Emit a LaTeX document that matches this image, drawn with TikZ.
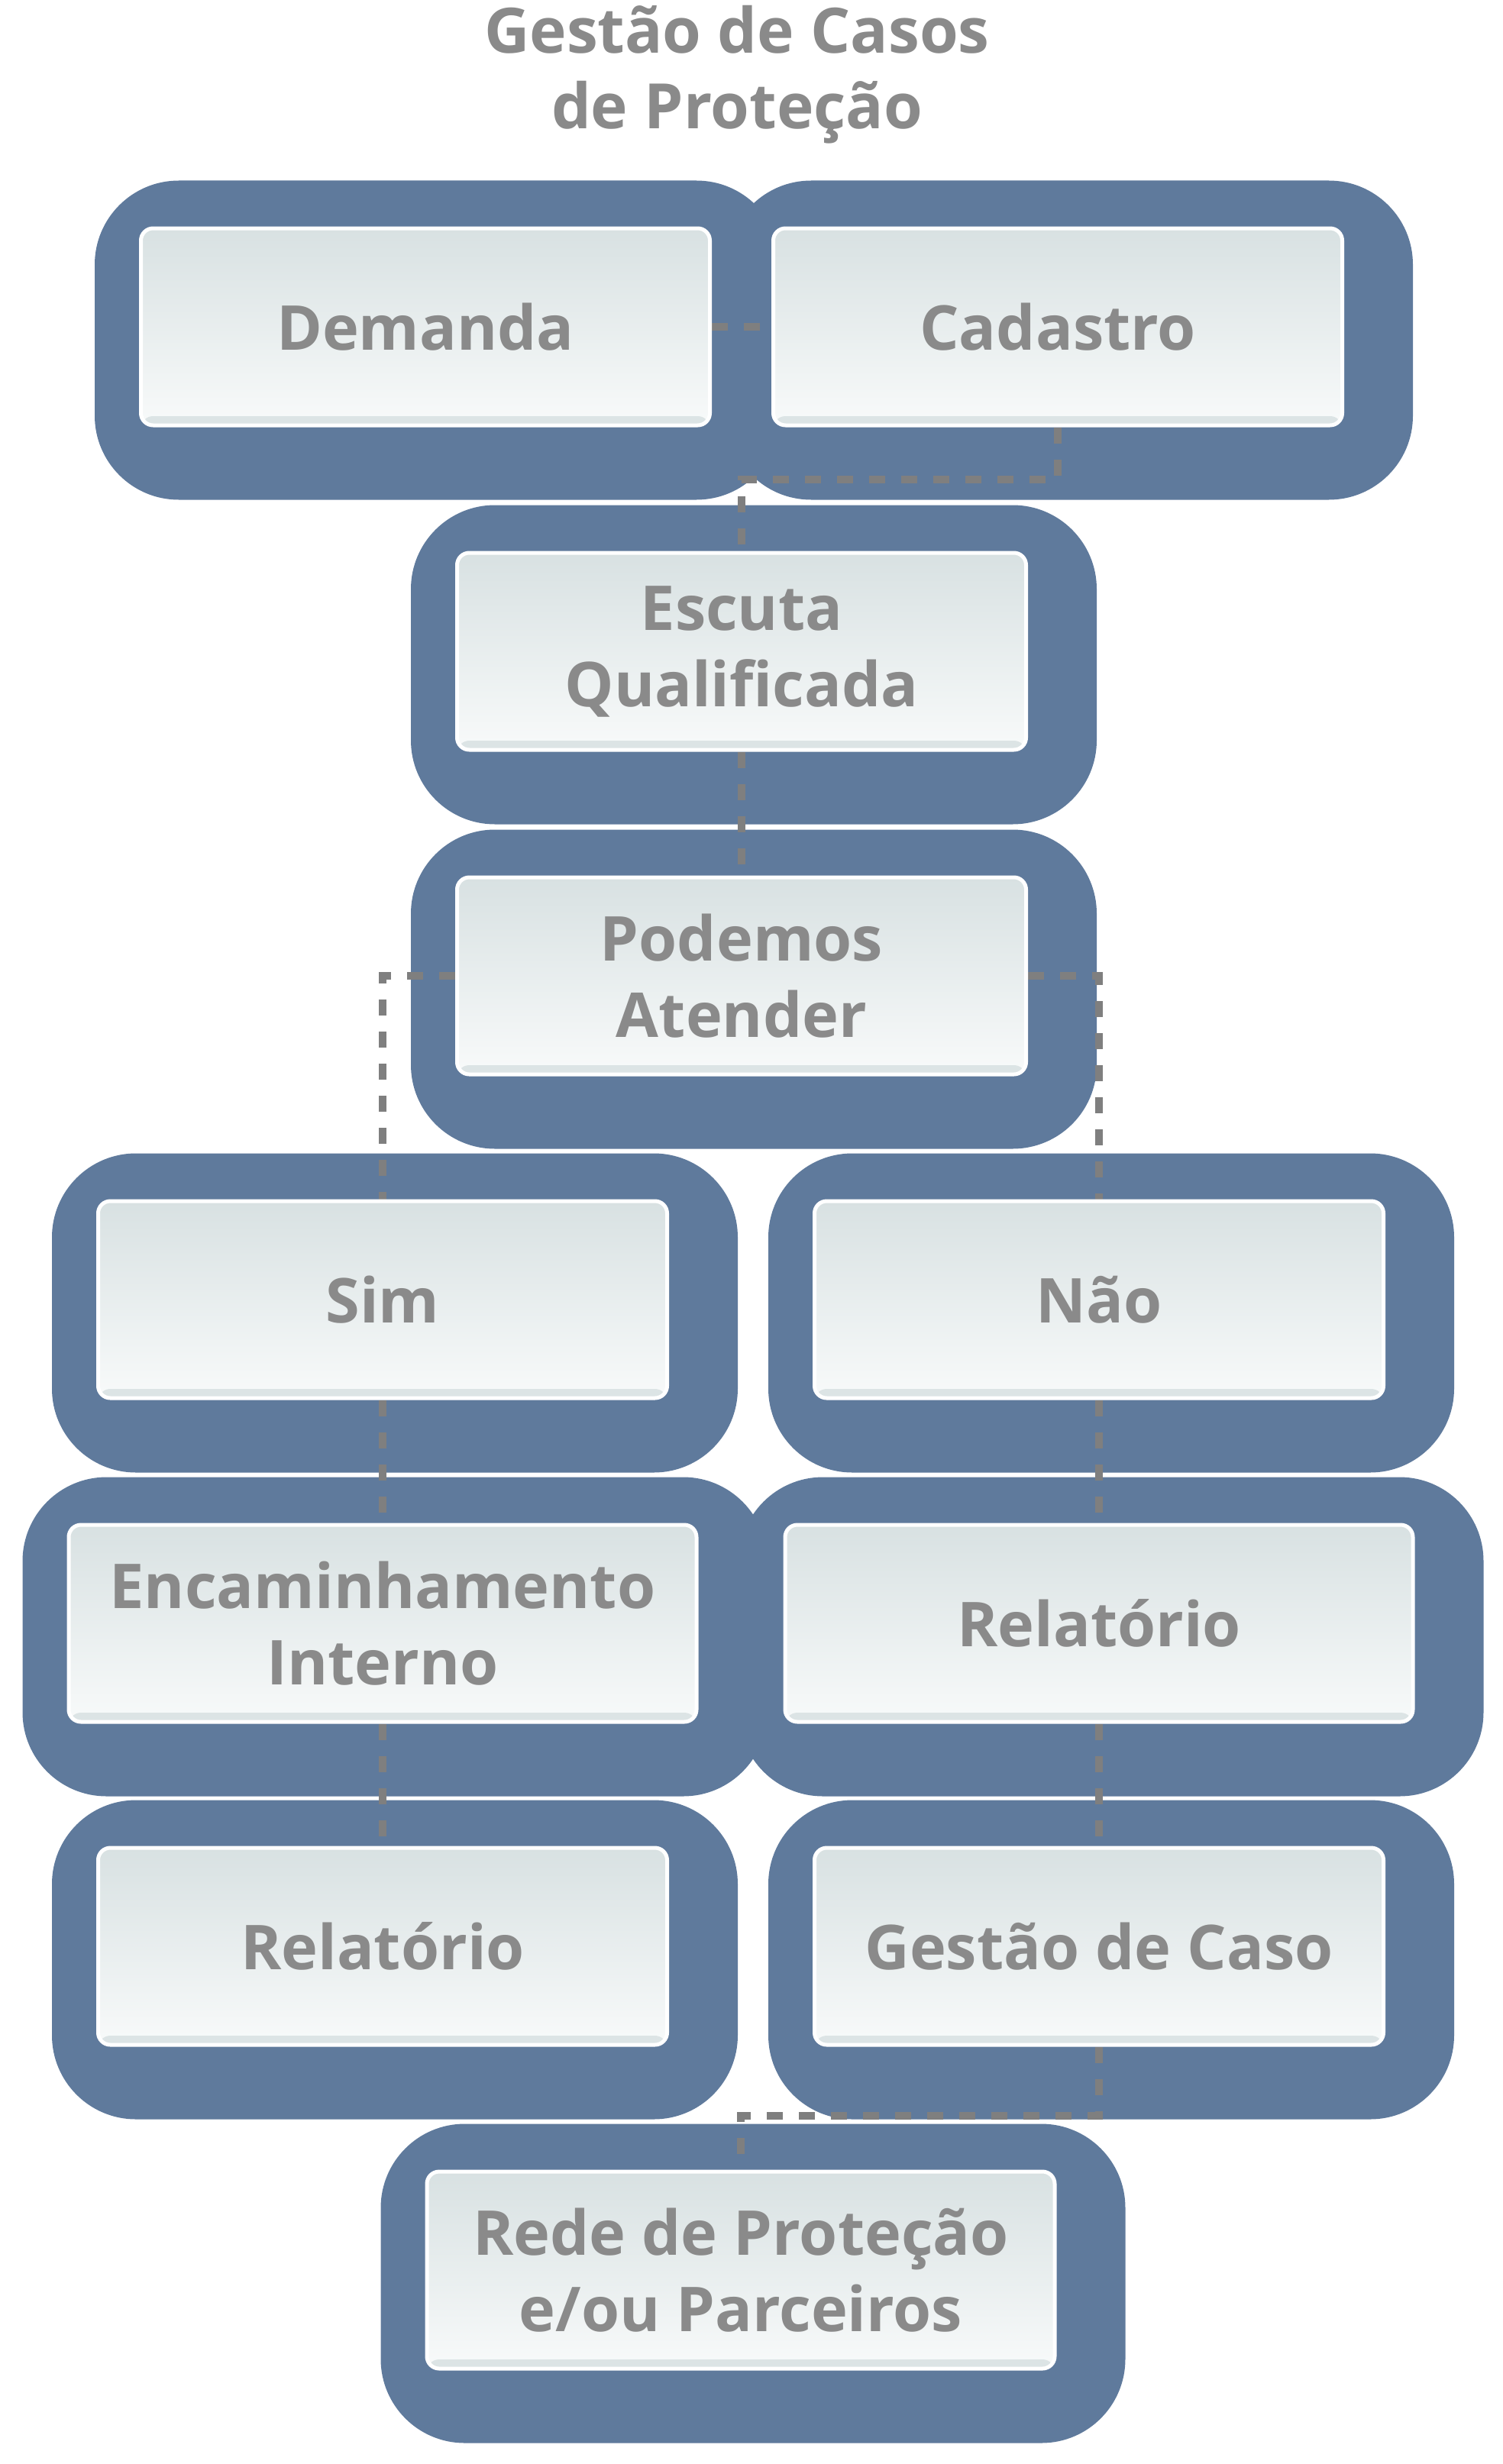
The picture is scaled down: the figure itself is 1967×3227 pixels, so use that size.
\documentclass[tikz,border=0pt]{standalone}
\usepackage{fontspec}
\setmainfont{Open Sans}
\usetikzlibrary{positioning,calc,backgrounds}
\definecolor{blob}{HTML}{5F7A9C}
\definecolor{ink}{HTML}{8A8A8A}
\definecolor{link}{HTML}{7F7F7F}
\definecolor{boxtop}{HTML}{D8E1E2}
\definecolor{boxbot}{HTML}{F8FAFA}
\definecolor{boxrim}{HTML}{DCE4E5}
\tikzset{
  x=1pt,y=1pt,
  every node/.style={text=ink},
  inbox/.style={rounded corners=16pt,draw=white,line width=5pt,top color=boxtop,bottom color=boxbot,
    minimum width=745pt,minimum height=258pt,align=center,inner sep=0pt,
    font=\bfseries\fontsize{81}{100}\selectfont,
    path picture={\fill[boxrim] ([yshift=12pt]path picture bounding box.south west) rectangle (path picture bounding box.south east);}},
  widebox/.style={inbox,minimum width=822pt},
  blobfill/.style={fill=blob,rounded corners=110pt},
  link/.style={draw=link,line width=10pt,dash pattern=on 21pt off 21pt},
  title/.style={font=\bfseries\fontsize{82}{99}\selectfont,align=center},
}
\begin{document}
\begin{tikzpicture}
\useasboundingbox (0,0) rectangle (1967,-3227);

% title
\node[title] (ttl) at (965,-98) {Gestão de Casos\\de Proteção};

% first row
\node[inbox] (dem) at (557,-428) {Demanda};
\node[inbox,right=78pt of dem] (cad) {Cadastro};

% central column
\node[inbox,below=162pt of $(dem.south east)!0.5!(cad.south west)$] (esc) {Escuta\\Qualificada};
\node[inbox,below=162pt of esc] (pod) {Podemos\\Atender};

% two branches
\node[inbox,below=161pt of pod.south,xshift=-470pt] (sim) {Sim};
\node[inbox,below=161pt of pod.south,xshift=468pt] (non) {Não};
\node[widebox,below=161pt of sim] (enc) {Encaminhamento\\Interno};
\node[widebox,below=161pt of non] (rel1) {Relatório};
\node[inbox,below=160pt of enc] (rel2) {Relatório};
\node[inbox,below=160pt of rel1] (gest) {Gestão de Caso};

% last
\node[widebox,below=161pt of rel2.south,xshift=469pt] (rede) {Rede de Proteção\\e/ou Parceiros};

\begin{scope}[on background layer]
% blue frames
\foreach \n in {dem,cad,esc,pod,sim,non,enc,rel1,rel2,gest,rede}
  \fill[blobfill] ([xshift=-58pt,yshift=60pt]\n.north west) rectangle ([xshift=90pt,yshift=-95pt]\n.south east);

% dotted links
\draw[link] (dem.east) -- (cad.west);
\draw[link] (cad.south) -- ++(0,-68) -| (esc.north);
\draw[link] (esc.south) -- (pod.north);
\draw[link] (pod.west) -| (sim.north);
\draw[link] (pod.east) -| (non.north);
\draw[link] (sim.south) -- (enc.north);
\draw[link] (non.south) -- (rel1.north);
\draw[link] (enc.south) -- (rel2.north -| enc.south);
\draw[link] (rel1.south) -- (gest.north -| rel1.south);
\draw[link] (gest.south) -- ++(0,-90) -| (rede.north);
\end{scope}
\end{tikzpicture}
\end{document}
